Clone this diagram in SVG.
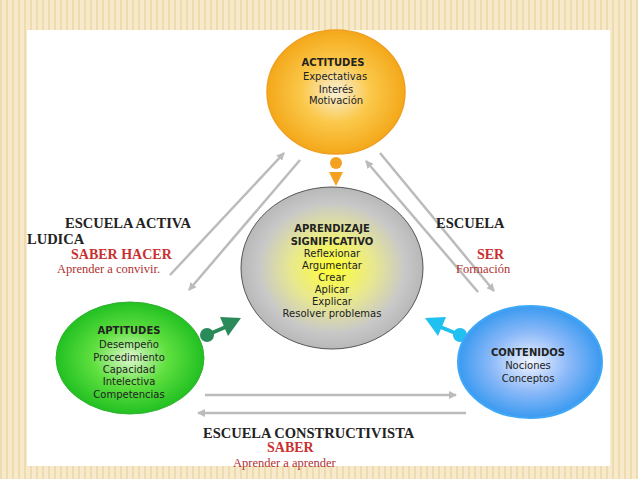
<svg xmlns="http://www.w3.org/2000/svg" width="638" height="479" viewBox="0 0 638 479">
<defs>
<pattern id="st" width="6" height="10" patternUnits="userSpaceOnUse"><rect width="6" height="10" fill="#f7eacb"/><rect width="2" height="10" fill="#eedcb0"/></pattern>
<radialGradient id="gO"><stop offset="0" stop-color="#f8f0d8"/><stop offset="0.5" stop-color="#fbc84a"/><stop offset="1" stop-color="#f4a81a"/></radialGradient>
<radialGradient id="gY"><stop offset="0" stop-color="#ffff30"/><stop offset="0.45" stop-color="#e8e890"/><stop offset="0.8" stop-color="#c8c8c8"/><stop offset="1" stop-color="#b8b8b8"/></radialGradient>
<radialGradient id="gG"><stop offset="0" stop-color="#e0f8d0"/><stop offset="0.5" stop-color="#60e040"/><stop offset="1" stop-color="#22c022"/></radialGradient>
<radialGradient id="gB"><stop offset="0" stop-color="#f0f4ff"/><stop offset="0.55" stop-color="#8ab8f8"/><stop offset="1" stop-color="#3a9af0"/></radialGradient>
<marker id="ah" markerWidth="8" markerHeight="8" refX="7" refY="4" orient="auto" markerUnits="userSpaceOnUse"><path d="M0,0 L8,4 L0,8 Z" fill="#bbb"/></marker>
<style>
.t{font-family:"DejaVu Sans",sans-serif;font-size:10px;fill:#222;text-anchor:middle}
.b{font-weight:bold}
.s{font-family:"Liberation Serif",serif;font-size:14.5px;font-weight:bold;fill:#222}
.r{font-family:"Liberation Serif",serif;font-size:14px;font-weight:bold;fill:#c83030}
.rs{font-family:"Liberation Serif",serif;font-size:12.5px;fill:#b03030}
.l{stroke:#bbb;stroke-width:2.5;fill:none;marker-end:url(#ah)}
</style>
</defs>
<rect width="638" height="479" fill="url(#st)"/>
<rect x="27" y="30" width="583" height="436" fill="#fff"/>
<g id="connectors">
<line class="l" x1="170" y1="275" x2="284" y2="153"/>
<line class="l" x1="300" y1="160" x2="189" y2="290"/>
<line class="l" x1="380" y1="153" x2="494" y2="291"/>
<line class="l" x1="478" y1="292" x2="366" y2="161"/>
<line class="l" x1="205" y1="395" x2="456" y2="395"/>
<line class="l" x1="466" y1="413" x2="198" y2="413"/>
<circle cx="336" cy="163" r="6" fill="#f4a020"/>
<path d="M329,172 L343,172 L336,186 Z" fill="#f4a020"/>
<circle cx="207" cy="335" r="7" fill="#2a8a5a"/>
<line x1="207" y1="335" x2="228" y2="326" stroke="#2a8a5a" stroke-width="4"/>
<path d="M220,317 L241,318 L228,336 Z" fill="#2a8a5a"/>
<circle cx="460" cy="335" r="7" fill="#20c0f0"/>
<line x1="460" y1="335" x2="438" y2="326" stroke="#20c0f0" stroke-width="4"/>
<path d="M446,317 L425,318 L438,336 Z" fill="#20c0f0"/>
</g>
<g id="actitudes">
<ellipse cx="336" cy="92" rx="69" ry="62" fill="url(#gO)" stroke="#f0a020" stroke-width="1.5"/>
<text class="t b" x="333" y="66">ACTITUDES</text>
<text class="t" x="335" y="80">Expectativas</text>
<text class="t" x="336" y="93">Interés</text>
<text class="t" x="336" y="104">Motivación</text>
</g>
<g id="aprendizaje">
<ellipse cx="332" cy="268" rx="91" ry="81" fill="url(#gY)" stroke="#555" stroke-width="1"/>
<text class="t b" x="332" y="232">APRENDIZAJE</text>
<text class="t b" x="332" y="245">SIGNIFICATIVO</text>
<text class="t" x="332" y="257">Reflexionar</text>
<text class="t" x="332" y="269">Argumentar</text>
<text class="t" x="332" y="281">Crear</text>
<text class="t" x="332" y="293">Aplicar</text>
<text class="t" x="332" y="305">Explicar</text>
<text class="t" x="332" y="317">Resolver problemas</text>
</g>
<g id="aptitudes">
<ellipse cx="130" cy="358" rx="74" ry="56" fill="url(#gG)" stroke="#30b030" stroke-width="1"/>
<text class="t b" x="129" y="334">APTITUDES</text>
<text class="t" x="129" y="348">Desempeño</text>
<text class="t" x="129" y="361">Procedimiento</text>
<text class="t" x="129" y="373">Capacidad</text>
<text class="t" x="129" y="385">Intelectiva</text>
<text class="t" x="129" y="398">Competencias</text>
</g>
<g id="contenidos">
<ellipse cx="530" cy="362" rx="72" ry="56" fill="url(#gB)" stroke="#40a8f8" stroke-width="2"/>
<text class="t b" x="528" y="356">CONTENIDOS</text>
<text class="t" x="528" y="369">Nociones</text>
<text class="t" x="528" y="382">Conceptos</text>
</g>
<g id="labels">
<text class="s" x="65" y="228">ESCUELA ACTIVA</text>
<text class="s" x="27" y="244">LUDICA</text>
<text class="r" x="71" y="259">SABER HACER</text>
<text class="rs" x="57" y="273">Aprender a convivir.</text>
<text class="s" x="436" y="228">ESCUELA</text>
<text class="r" x="477" y="259">SER</text>
<text class="rs" x="456" y="273">Formación</text>
<text class="s" x="203" y="438">ESCUELA CONSTRUCTIVISTA</text>
<text class="r" x="267" y="452">SABER</text>
<text class="rs" x="233" y="467">Aprender a aprender</text>
</g>
</svg>
